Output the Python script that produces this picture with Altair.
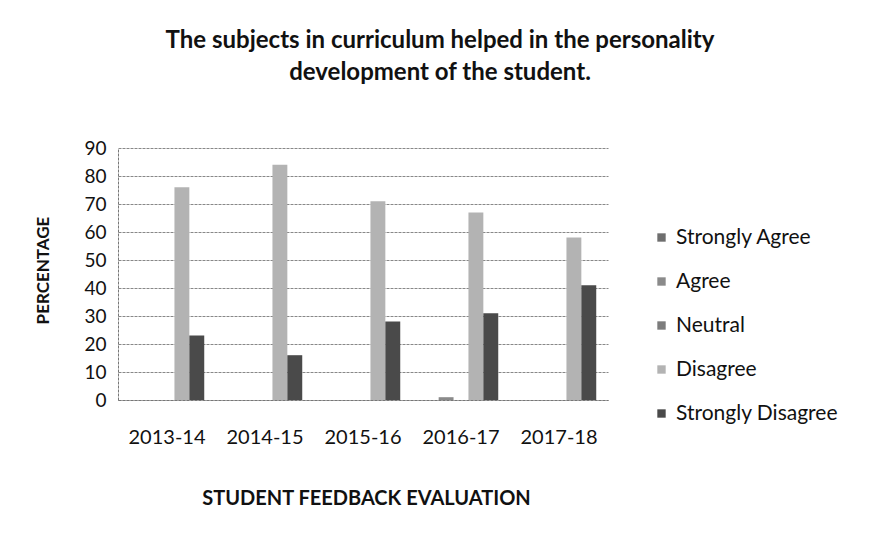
import altair as alt
import pandas as pd

years = ["2013-14", "2014-15", "2015-16", "2016-17", "2017-18"]
series = ["Strongly Agree", "Agree", "Neutral", "Disagree", "Strongly Disagree"]
strongly_agree = [0, 0, 0, 0, 0]
agree = [0, 0, 0, 1, 0]
neutral = [0, 0, 0, 0, 0]
disagree = [76, 84, 71, 67, 58]
strongly_disagree = [23, 16, 28, 31, 41]
colors = ["#6e6e6e", "#8a8a8a", "#7c7c7c", "#b3b3b3", "#4a4a4a"]
title_lines = ["The subjects in curriculum helped in the personality",
               "development of the student."]
y_ticks = [0, 10, 20, 30, 40, 50, 60, 70, 80, 90]

rows = []
for name, vals in zip(series, [strongly_agree, agree, neutral, disagree, strongly_disagree]):
    for yr, v in zip(years, vals):
        rows.append({"Year": yr, "Response": name, "Percentage": v})
df = pd.DataFrame(rows)

FONT = "Lato"

chart = alt.Chart(df).mark_bar().encode(
    x=alt.X("Year:N", sort=years,
            scale=alt.Scale(paddingInner=0.24, paddingOuter=0.12),
            axis=alt.Axis(title="STUDENT FEEDBACK EVALUATION", labelAngle=0,
                          labelFontSize=20, labelFont=FONT, labelColor="#111",
                          labelPadding=27, ticks=False,
                          domainColor="#777", domainDash=[3, 1],
                          titleFont=FONT, titleFontSize=20, titleFontWeight="bold",
                          titleColor="#111", titleX=248, titleY=104,
                          titleAnchor="middle", titleBaseline="alphabetic")),
    xOffset=alt.XOffset("Response:N", sort=series, scale=alt.Scale(paddingInner=0)),
    y=alt.Y("Percentage:Q", scale=alt.Scale(domain=[0, 90]),
            axis=alt.Axis(title="PERCENTAGE", values=y_ticks, ticks=False,
                          labelFontSize=19, labelFont=FONT, labelColor="#111",
                          labelPadding=12, gridColor="#888", gridDash=[3, 1],
                          domainColor="#777", domainDash=[3, 1],
                          titleFont=FONT, titleFontSize=17, titleFontWeight="bold",
                          titleColor="#111", titleX=-66, titleY=122)),
    color=alt.Color("Response:N", sort=series,
                    scale=alt.Scale(domain=series, range=colors),
                    legend=alt.Legend(title=None, orient="none", legendX=533, legendY=79,
                                      symbolType="square", symbolSize=70,
                                      symbolStrokeWidth=0, labelFont=FONT,
                                      labelFontSize=21, labelColor="#111",
                                      labelLimit=400,
                                      rowPadding=22, labelOffset=4)),
).properties(
    width=490, height=252,
    title=alt.TitleParams(title_lines, font=FONT, fontSize=24, fontWeight="bold",
                          color="#111", anchor="middle", dx=77, offset=54, lineHeight=32),
    autosize=alt.AutoSizeParams(type="none"),
    padding={"left": 110, "top": 140, "right": 258, "bottom": 144},
).configure_view(stroke=None)

chart.save("out.html", embed_options={"renderer": "svg", "actions": False})
